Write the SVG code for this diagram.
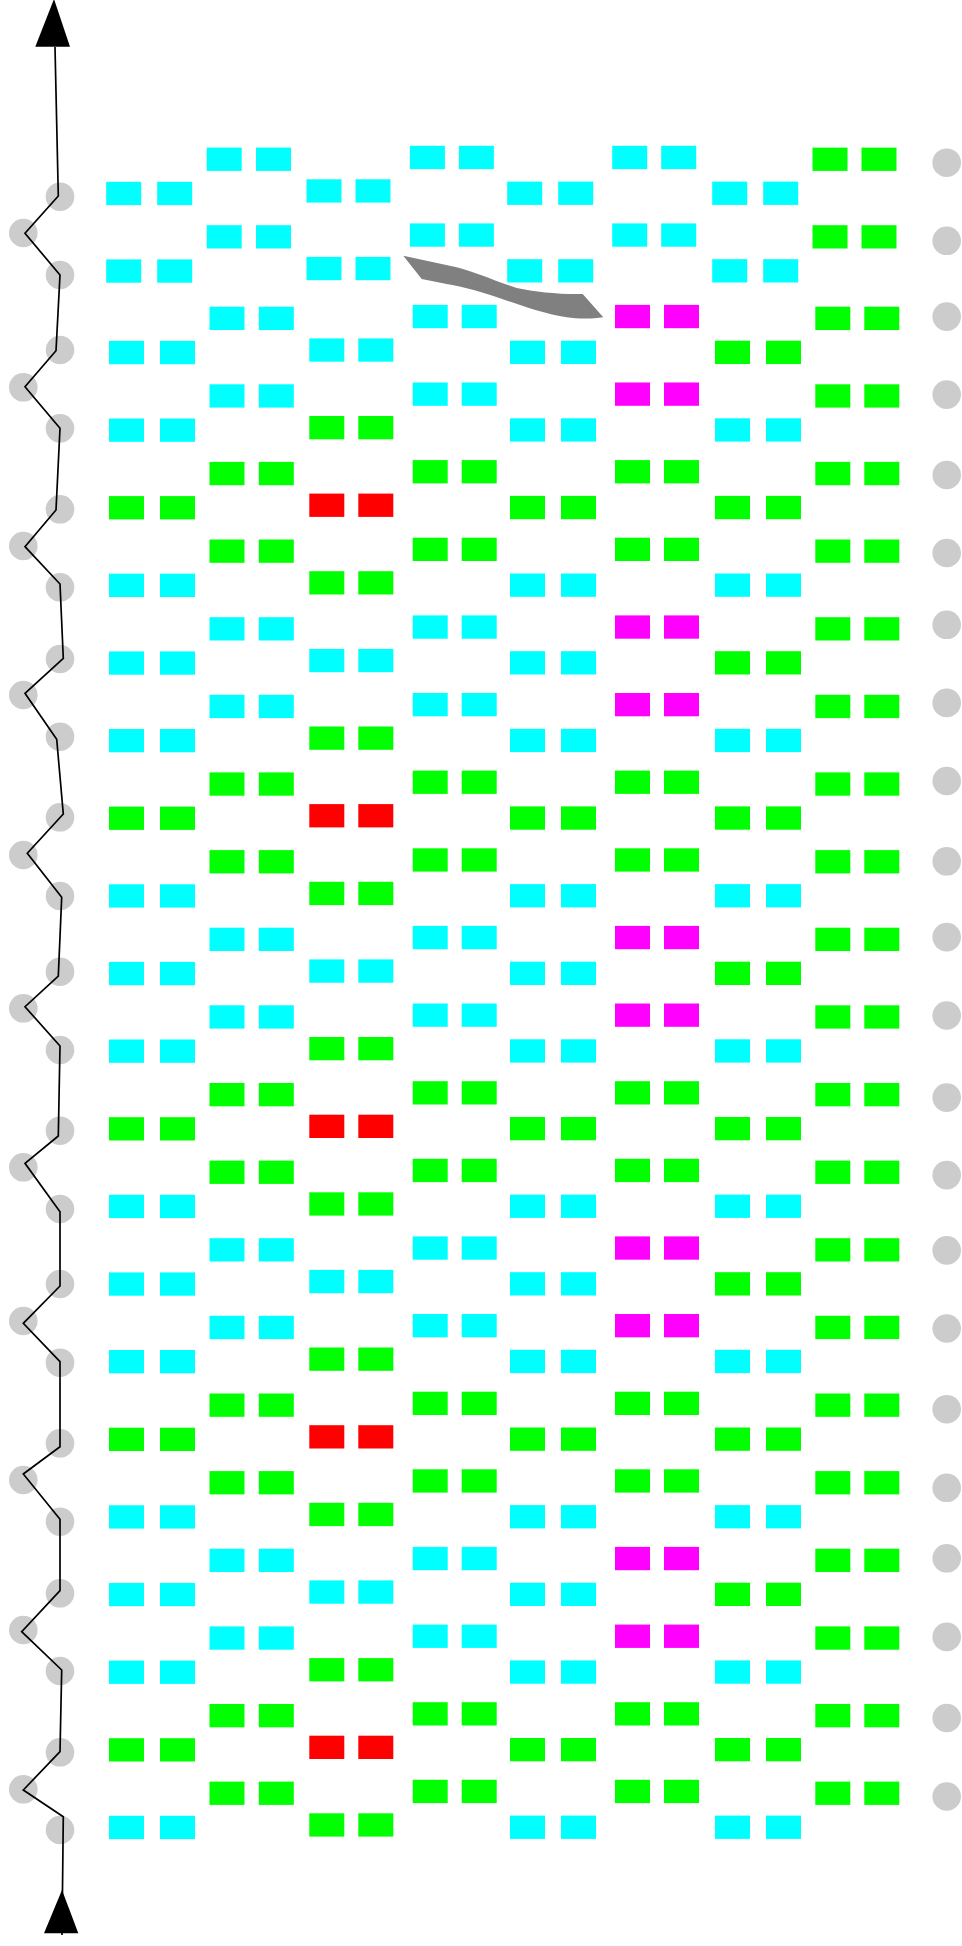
<svg xmlns="http://www.w3.org/2000/svg" width="962" height="1946" viewBox="0 0 962 1946">
<style>
rect{width:35px;height:23.3px}
.c{fill:#00ffff}.g{fill:#00ff00}.r{fill:#ff0000}.m{fill:#ff00ff}
.dot{fill:#cccccc}
.wire{fill:none;stroke:#000;stroke-width:1.7;stroke-linejoin:miter}
.head{fill:#000}
.swoosh{fill:#808080}
</style>
<rect width="962" height="1946" fill="#fff" style="width:962px;height:1946px"/>
<g id="dots-left">
<circle class="dot" r="14.3" cx="60" cy="196.7"/><circle class="dot" r="14.3" cx="60" cy="275"/><circle class="dot" r="14.3" cx="60" cy="350"/><circle class="dot" r="14.3" cx="60" cy="428.3"/><circle class="dot" r="14.3" cx="60" cy="509.3"/><circle class="dot" r="14.3" cx="60" cy="587.3"/><circle class="dot" r="14.3" cx="60" cy="659"/><circle class="dot" r="14.3" cx="60" cy="736.7"/><circle class="dot" r="14.3" cx="60" cy="817.3"/><circle class="dot" r="14.3" cx="60" cy="896"/><circle class="dot" r="14.3" cx="60" cy="971.7"/><circle class="dot" r="14.3" cx="60" cy="1050"/><circle class="dot" r="14.3" cx="60" cy="1130.7"/><circle class="dot" r="14.3" cx="60" cy="1209"/><circle class="dot" r="14.3" cx="60" cy="1284"/><circle class="dot" r="14.3" cx="60" cy="1362.7"/><circle class="dot" r="14.3" cx="60" cy="1443.3"/><circle class="dot" r="14.3" cx="60" cy="1521.7"/><circle class="dot" r="14.3" cx="60" cy="1593.3"/><circle class="dot" r="14.3" cx="60" cy="1671"/><circle class="dot" r="14.3" cx="60" cy="1752.3"/><circle class="dot" r="14.3" cx="60" cy="1830"/>
<circle class="dot" r="14.3" cx="23.3" cy="233"/><circle class="dot" r="14.3" cx="23.3" cy="387.3"/><circle class="dot" r="14.3" cx="23.3" cy="546"/><circle class="dot" r="14.3" cx="23.3" cy="695"/><circle class="dot" r="14.3" cx="23.3" cy="855"/><circle class="dot" r="14.3" cx="23.3" cy="1008.3"/><circle class="dot" r="14.3" cx="23.3" cy="1167.3"/><circle class="dot" r="14.3" cx="23.3" cy="1321"/><circle class="dot" r="14.3" cx="23.3" cy="1480"/><circle class="dot" r="14.3" cx="23.3" cy="1630"/><circle class="dot" r="14.3" cx="23.3" cy="1789.3"/>
</g>
<g id="dots-right">
<circle class="dot" r="14.3" cx="946.7" cy="162.7"/><circle class="dot" r="14.3" cx="946.7" cy="240.8"/><circle class="dot" r="14.3" cx="946.7" cy="316.6"/><circle class="dot" r="14.3" cx="946.7" cy="394.6"/><circle class="dot" r="14.3" cx="946.7" cy="475"/><circle class="dot" r="14.3" cx="946.7" cy="553"/><circle class="dot" r="14.3" cx="946.7" cy="624.8"/><circle class="dot" r="14.3" cx="946.7" cy="702.9"/><circle class="dot" r="14.3" cx="946.7" cy="781"/><circle class="dot" r="14.3" cx="946.7" cy="861.3"/><circle class="dot" r="14.3" cx="946.7" cy="937.1"/><circle class="dot" r="14.3" cx="946.7" cy="1015.5"/><circle class="dot" r="14.3" cx="946.7" cy="1097.6"/><circle class="dot" r="14.3" cx="946.7" cy="1175.1"/><circle class="dot" r="14.3" cx="946.7" cy="1250.4"/><circle class="dot" r="14.3" cx="946.7" cy="1328.5"/><circle class="dot" r="14.3" cx="946.7" cy="1409.2"/><circle class="dot" r="14.3" cx="946.7" cy="1487.8"/><circle class="dot" r="14.3" cx="946.7" cy="1558.3"/><circle class="dot" r="14.3" cx="946.7" cy="1636.9"/><circle class="dot" r="14.3" cx="946.7" cy="1718"/><circle class="dot" r="14.3" cx="946.7" cy="1796.5"/>
</g>
<g id="connectors">
<path class="wire" d="M62,1935 L63.3,1816.7 L23.3,1790 L60,1751.7 L61.7,1670 L21.7,1631.7 L60,1590.7 L60,1519.3 L23.3,1474 L60,1446.7 L60,1361.7 L23.3,1323.3 L60,1286 L60,1211.7 L25,1163.3 L58.3,1136 L60,1046 L25,1006.7 L58.3,976 L61.7,897.3 L27.3,853.3 L63.3,814 L56.7,739.3 L25,693.3 L63.3,658.3 L60,584 L25,546.7 L56,510 L60,428.3 L25,386.7 L56,350.7 L60,275 L25,233.3 L58.3,196 L55,47"/>
<polygon class="head" points="54,-1 35.3,46.7 70,46.7"/>
<polygon class="head" points="62,1890 44,1933.3 78.3,1933.3"/>
</g>
<g id="swoosh">
<path class="swoosh" d="M403.3,255.7 L456.7,267.3 C475,272 495,281 516.7,288 C535,292 560,294.5 582.7,294 L603.3,317.3 C590,319.5 575,318.5 566.7,317.3 C545,314 520,305 500,298.3 C485,293 465,287 446.7,284 L421.7,279 Z"/>
</g>
<g id="col1">
<g id="n1-0"><rect class="c" x="106.2" y="181.8"/><rect class="c" x="157.2" y="181.8"/></g>
<g id="n1-1"><rect class="c" x="106.2" y="259.4"/><rect class="c" x="157.2" y="259.4"/></g>
<g id="n1-2"><rect class="c" x="109" y="340.9"/><rect class="c" x="160" y="340.9"/></g>
<g id="n1-3"><rect class="c" x="109" y="418.5"/><rect class="c" x="160" y="418.5"/></g>
<g id="n1-4"><rect class="g" x="109" y="496.1"/><rect class="g" x="160" y="496.1"/></g>
<g id="n1-5"><rect class="c" x="109" y="573.7"/><rect class="c" x="160" y="573.7"/></g>
<g id="n1-6"><rect class="c" x="109" y="651.4"/><rect class="c" x="160" y="651.4"/></g>
<g id="n1-7"><rect class="c" x="109" y="729"/><rect class="c" x="160" y="729"/></g>
<g id="n1-8"><rect class="g" x="109" y="806.6"/><rect class="g" x="160" y="806.6"/></g>
<g id="n1-9"><rect class="c" x="109" y="884.3"/><rect class="c" x="160" y="884.3"/></g>
<g id="n1-10"><rect class="c" x="109" y="961.9"/><rect class="c" x="160" y="961.9"/></g>
<g id="n1-11"><rect class="c" x="109" y="1039.5"/><rect class="c" x="160" y="1039.5"/></g>
<g id="n1-12"><rect class="g" x="109" y="1117.2"/><rect class="g" x="160" y="1117.2"/></g>
<g id="n1-13"><rect class="c" x="109" y="1194.8"/><rect class="c" x="160" y="1194.8"/></g>
<g id="n1-14"><rect class="c" x="109" y="1272.4"/><rect class="c" x="160" y="1272.4"/></g>
<g id="n1-15"><rect class="c" x="109" y="1350"/><rect class="c" x="160" y="1350"/></g>
<g id="n1-16"><rect class="g" x="109" y="1427.7"/><rect class="g" x="160" y="1427.7"/></g>
<g id="n1-17"><rect class="c" x="109" y="1505.3"/><rect class="c" x="160" y="1505.3"/></g>
<g id="n1-18"><rect class="c" x="109" y="1582.9"/><rect class="c" x="160" y="1582.9"/></g>
<g id="n1-19"><rect class="c" x="109" y="1660.6"/><rect class="c" x="160" y="1660.6"/></g>
<g id="n1-20"><rect class="g" x="109" y="1738.2"/><rect class="g" x="160" y="1738.2"/></g>
<g id="n1-21"><rect class="c" x="109" y="1815.8"/><rect class="c" x="160" y="1815.8"/></g>
</g>
<g id="col2">
<g id="n2-0"><rect class="c" x="206.7" y="147.6"/><rect class="c" x="256" y="147.6"/></g>
<g id="n2-1"><rect class="c" x="206.7" y="225.2"/><rect class="c" x="256" y="225.2"/></g>
<g id="n2-2"><rect class="c" x="209.5" y="306.7"/><rect class="c" x="258.8" y="306.7"/></g>
<g id="n2-3"><rect class="c" x="209.5" y="384.3"/><rect class="c" x="258.8" y="384.3"/></g>
<g id="n2-4"><rect class="g" x="209.5" y="461.9"/><rect class="g" x="258.8" y="461.9"/></g>
<g id="n2-5"><rect class="g" x="209.5" y="539.5"/><rect class="g" x="258.8" y="539.5"/></g>
<g id="n2-6"><rect class="c" x="209.5" y="617.2"/><rect class="c" x="258.8" y="617.2"/></g>
<g id="n2-7"><rect class="c" x="209.5" y="694.8"/><rect class="c" x="258.8" y="694.8"/></g>
<g id="n2-8"><rect class="g" x="209.5" y="772.4"/><rect class="g" x="258.8" y="772.4"/></g>
<g id="n2-9"><rect class="g" x="209.5" y="850.1"/><rect class="g" x="258.8" y="850.1"/></g>
<g id="n2-10"><rect class="c" x="209.5" y="927.7"/><rect class="c" x="258.8" y="927.7"/></g>
<g id="n2-11"><rect class="c" x="209.5" y="1005.3"/><rect class="c" x="258.8" y="1005.3"/></g>
<g id="n2-12"><rect class="g" x="209.5" y="1083"/><rect class="g" x="258.8" y="1083"/></g>
<g id="n2-13"><rect class="g" x="209.5" y="1160.6"/><rect class="g" x="258.8" y="1160.6"/></g>
<g id="n2-14"><rect class="c" x="209.5" y="1238.2"/><rect class="c" x="258.8" y="1238.2"/></g>
<g id="n2-15"><rect class="c" x="209.5" y="1315.8"/><rect class="c" x="258.8" y="1315.8"/></g>
<g id="n2-16"><rect class="g" x="209.5" y="1393.5"/><rect class="g" x="258.8" y="1393.5"/></g>
<g id="n2-17"><rect class="g" x="209.5" y="1471.1"/><rect class="g" x="258.8" y="1471.1"/></g>
<g id="n2-18"><rect class="c" x="209.5" y="1548.7"/><rect class="c" x="258.8" y="1548.7"/></g>
<g id="n2-19"><rect class="c" x="209.5" y="1626.4"/><rect class="c" x="258.8" y="1626.4"/></g>
<g id="n2-20"><rect class="g" x="209.5" y="1704"/><rect class="g" x="258.8" y="1704"/></g>
<g id="n2-21"><rect class="g" x="209.5" y="1781.6"/><rect class="g" x="258.8" y="1781.6"/></g>
</g>
<g id="col3">
<g id="n3-0"><rect class="c" x="306.5" y="179.3"/><rect class="c" x="355.5" y="179.3"/></g>
<g id="n3-1"><rect class="c" x="306.5" y="256.9"/><rect class="c" x="355.5" y="256.9"/></g>
<g id="n3-2"><rect class="c" x="309.3" y="338.4"/><rect class="c" x="358.3" y="338.4"/></g>
<g id="n3-3"><rect class="g" x="309.3" y="416"/><rect class="g" x="358.3" y="416"/></g>
<g id="n3-4"><rect class="r" x="309.3" y="493.6"/><rect class="r" x="358.3" y="493.6"/></g>
<g id="n3-5"><rect class="g" x="309.3" y="571.2"/><rect class="g" x="358.3" y="571.2"/></g>
<g id="n3-6"><rect class="c" x="309.3" y="648.9"/><rect class="c" x="358.3" y="648.9"/></g>
<g id="n3-7"><rect class="g" x="309.3" y="726.5"/><rect class="g" x="358.3" y="726.5"/></g>
<g id="n3-8"><rect class="r" x="309.3" y="804.1"/><rect class="r" x="358.3" y="804.1"/></g>
<g id="n3-9"><rect class="g" x="309.3" y="881.8"/><rect class="g" x="358.3" y="881.8"/></g>
<g id="n3-10"><rect class="c" x="309.3" y="959.4"/><rect class="c" x="358.3" y="959.4"/></g>
<g id="n3-11"><rect class="g" x="309.3" y="1037"/><rect class="g" x="358.3" y="1037"/></g>
<g id="n3-12"><rect class="r" x="309.3" y="1114.7"/><rect class="r" x="358.3" y="1114.7"/></g>
<g id="n3-13"><rect class="g" x="309.3" y="1192.3"/><rect class="g" x="358.3" y="1192.3"/></g>
<g id="n3-14"><rect class="c" x="309.3" y="1269.9"/><rect class="c" x="358.3" y="1269.9"/></g>
<g id="n3-15"><rect class="g" x="309.3" y="1347.5"/><rect class="g" x="358.3" y="1347.5"/></g>
<g id="n3-16"><rect class="r" x="309.3" y="1425.2"/><rect class="r" x="358.3" y="1425.2"/></g>
<g id="n3-17"><rect class="g" x="309.3" y="1502.8"/><rect class="g" x="358.3" y="1502.8"/></g>
<g id="n3-18"><rect class="c" x="309.3" y="1580.4"/><rect class="c" x="358.3" y="1580.4"/></g>
<g id="n3-19"><rect class="g" x="309.3" y="1658.1"/><rect class="g" x="358.3" y="1658.1"/></g>
<g id="n3-20"><rect class="r" x="309.3" y="1735.7"/><rect class="r" x="358.3" y="1735.7"/></g>
<g id="n3-21"><rect class="g" x="309.3" y="1813.3"/><rect class="g" x="358.3" y="1813.3"/></g>
</g>
<g id="col4">
<g id="n4-0"><rect class="c" x="409.9" y="145.8"/><rect class="c" x="458.9" y="145.8"/></g>
<g id="n4-1"><rect class="c" x="409.9" y="223.4"/><rect class="c" x="458.9" y="223.4"/></g>
<g id="n4-2"><rect class="c" x="412.7" y="304.9"/><rect class="c" x="461.7" y="304.9"/></g>
<g id="n4-3"><rect class="c" x="412.7" y="382.5"/><rect class="c" x="461.7" y="382.5"/></g>
<g id="n4-4"><rect class="g" x="412.7" y="460.1"/><rect class="g" x="461.7" y="460.1"/></g>
<g id="n4-5"><rect class="g" x="412.7" y="537.7"/><rect class="g" x="461.7" y="537.7"/></g>
<g id="n4-6"><rect class="c" x="412.7" y="615.4"/><rect class="c" x="461.7" y="615.4"/></g>
<g id="n4-7"><rect class="c" x="412.7" y="693"/><rect class="c" x="461.7" y="693"/></g>
<g id="n4-8"><rect class="g" x="412.7" y="770.6"/><rect class="g" x="461.7" y="770.6"/></g>
<g id="n4-9"><rect class="g" x="412.7" y="848.3"/><rect class="g" x="461.7" y="848.3"/></g>
<g id="n4-10"><rect class="c" x="412.7" y="925.9"/><rect class="c" x="461.7" y="925.9"/></g>
<g id="n4-11"><rect class="c" x="412.7" y="1003.5"/><rect class="c" x="461.7" y="1003.5"/></g>
<g id="n4-12"><rect class="g" x="412.7" y="1081.2"/><rect class="g" x="461.7" y="1081.2"/></g>
<g id="n4-13"><rect class="g" x="412.7" y="1158.8"/><rect class="g" x="461.7" y="1158.8"/></g>
<g id="n4-14"><rect class="c" x="412.7" y="1236.4"/><rect class="c" x="461.7" y="1236.4"/></g>
<g id="n4-15"><rect class="c" x="412.7" y="1314"/><rect class="c" x="461.7" y="1314"/></g>
<g id="n4-16"><rect class="g" x="412.7" y="1391.7"/><rect class="g" x="461.7" y="1391.7"/></g>
<g id="n4-17"><rect class="g" x="412.7" y="1469.3"/><rect class="g" x="461.7" y="1469.3"/></g>
<g id="n4-18"><rect class="c" x="412.7" y="1546.9"/><rect class="c" x="461.7" y="1546.9"/></g>
<g id="n4-19"><rect class="c" x="412.7" y="1624.6"/><rect class="c" x="461.7" y="1624.6"/></g>
<g id="n4-20"><rect class="g" x="412.7" y="1702.2"/><rect class="g" x="461.7" y="1702.2"/></g>
<g id="n4-21"><rect class="g" x="412.7" y="1779.8"/><rect class="g" x="461.7" y="1779.8"/></g>
</g>
<g id="col5">
<g id="n5-0"><rect class="c" x="507.2" y="181.6"/><rect class="c" x="558.2" y="181.6"/></g>
<g id="n5-1"><rect class="c" x="507.2" y="259.2"/><rect class="c" x="558.2" y="259.2"/></g>
<g id="n5-2"><rect class="c" x="510" y="340.7"/><rect class="c" x="561" y="340.7"/></g>
<g id="n5-3"><rect class="c" x="510" y="418.3"/><rect class="c" x="561" y="418.3"/></g>
<g id="n5-4"><rect class="g" x="510" y="495.9"/><rect class="g" x="561" y="495.9"/></g>
<g id="n5-5"><rect class="c" x="510" y="573.5"/><rect class="c" x="561" y="573.5"/></g>
<g id="n5-6"><rect class="c" x="510" y="651.2"/><rect class="c" x="561" y="651.2"/></g>
<g id="n5-7"><rect class="c" x="510" y="728.8"/><rect class="c" x="561" y="728.8"/></g>
<g id="n5-8"><rect class="g" x="510" y="806.4"/><rect class="g" x="561" y="806.4"/></g>
<g id="n5-9"><rect class="c" x="510" y="884.1"/><rect class="c" x="561" y="884.1"/></g>
<g id="n5-10"><rect class="c" x="510" y="961.7"/><rect class="c" x="561" y="961.7"/></g>
<g id="n5-11"><rect class="c" x="510" y="1039.3"/><rect class="c" x="561" y="1039.3"/></g>
<g id="n5-12"><rect class="g" x="510" y="1117"/><rect class="g" x="561" y="1117"/></g>
<g id="n5-13"><rect class="c" x="510" y="1194.6"/><rect class="c" x="561" y="1194.6"/></g>
<g id="n5-14"><rect class="c" x="510" y="1272.2"/><rect class="c" x="561" y="1272.2"/></g>
<g id="n5-15"><rect class="c" x="510" y="1349.8"/><rect class="c" x="561" y="1349.8"/></g>
<g id="n5-16"><rect class="g" x="510" y="1427.5"/><rect class="g" x="561" y="1427.5"/></g>
<g id="n5-17"><rect class="c" x="510" y="1505.1"/><rect class="c" x="561" y="1505.1"/></g>
<g id="n5-18"><rect class="c" x="510" y="1582.7"/><rect class="c" x="561" y="1582.7"/></g>
<g id="n5-19"><rect class="c" x="510" y="1660.4"/><rect class="c" x="561" y="1660.4"/></g>
<g id="n5-20"><rect class="g" x="510" y="1738"/><rect class="g" x="561" y="1738"/></g>
<g id="n5-21"><rect class="c" x="510" y="1815.6"/><rect class="c" x="561" y="1815.6"/></g>
</g>
<g id="col6">
<g id="n6-0"><rect class="c" x="612.2" y="145.8"/><rect class="c" x="661.2" y="145.8"/></g>
<g id="n6-1"><rect class="c" x="612.2" y="223.4"/><rect class="c" x="661.2" y="223.4"/></g>
<g id="n6-2"><rect class="m" x="615" y="304.9"/><rect class="m" x="664" y="304.9"/></g>
<g id="n6-3"><rect class="m" x="615" y="382.5"/><rect class="m" x="664" y="382.5"/></g>
<g id="n6-4"><rect class="g" x="615" y="460.1"/><rect class="g" x="664" y="460.1"/></g>
<g id="n6-5"><rect class="g" x="615" y="537.7"/><rect class="g" x="664" y="537.7"/></g>
<g id="n6-6"><rect class="m" x="615" y="615.4"/><rect class="m" x="664" y="615.4"/></g>
<g id="n6-7"><rect class="m" x="615" y="693"/><rect class="m" x="664" y="693"/></g>
<g id="n6-8"><rect class="g" x="615" y="770.6"/><rect class="g" x="664" y="770.6"/></g>
<g id="n6-9"><rect class="g" x="615" y="848.3"/><rect class="g" x="664" y="848.3"/></g>
<g id="n6-10"><rect class="m" x="615" y="925.9"/><rect class="m" x="664" y="925.9"/></g>
<g id="n6-11"><rect class="m" x="615" y="1003.5"/><rect class="m" x="664" y="1003.5"/></g>
<g id="n6-12"><rect class="g" x="615" y="1081.2"/><rect class="g" x="664" y="1081.2"/></g>
<g id="n6-13"><rect class="g" x="615" y="1158.8"/><rect class="g" x="664" y="1158.8"/></g>
<g id="n6-14"><rect class="m" x="615" y="1236.4"/><rect class="m" x="664" y="1236.4"/></g>
<g id="n6-15"><rect class="m" x="615" y="1314"/><rect class="m" x="664" y="1314"/></g>
<g id="n6-16"><rect class="g" x="615" y="1391.7"/><rect class="g" x="664" y="1391.7"/></g>
<g id="n6-17"><rect class="g" x="615" y="1469.3"/><rect class="g" x="664" y="1469.3"/></g>
<g id="n6-18"><rect class="m" x="615" y="1546.9"/><rect class="m" x="664" y="1546.9"/></g>
<g id="n6-19"><rect class="m" x="615" y="1624.6"/><rect class="m" x="664" y="1624.6"/></g>
<g id="n6-20"><rect class="g" x="615" y="1702.2"/><rect class="g" x="664" y="1702.2"/></g>
<g id="n6-21"><rect class="g" x="615" y="1779.8"/><rect class="g" x="664" y="1779.8"/></g>
</g>
<g id="col7">
<g id="n7-0"><rect class="c" x="712.2" y="181.6"/><rect class="c" x="763.2" y="181.6"/></g>
<g id="n7-1"><rect class="c" x="712.2" y="259.2"/><rect class="c" x="763.2" y="259.2"/></g>
<g id="n7-2"><rect class="g" x="715" y="340.7"/><rect class="g" x="766" y="340.7"/></g>
<g id="n7-3"><rect class="c" x="715" y="418.3"/><rect class="c" x="766" y="418.3"/></g>
<g id="n7-4"><rect class="g" x="715" y="495.9"/><rect class="g" x="766" y="495.9"/></g>
<g id="n7-5"><rect class="c" x="715" y="573.5"/><rect class="c" x="766" y="573.5"/></g>
<g id="n7-6"><rect class="g" x="715" y="651.2"/><rect class="g" x="766" y="651.2"/></g>
<g id="n7-7"><rect class="c" x="715" y="728.8"/><rect class="c" x="766" y="728.8"/></g>
<g id="n7-8"><rect class="g" x="715" y="806.4"/><rect class="g" x="766" y="806.4"/></g>
<g id="n7-9"><rect class="c" x="715" y="884.1"/><rect class="c" x="766" y="884.1"/></g>
<g id="n7-10"><rect class="g" x="715" y="961.7"/><rect class="g" x="766" y="961.7"/></g>
<g id="n7-11"><rect class="c" x="715" y="1039.3"/><rect class="c" x="766" y="1039.3"/></g>
<g id="n7-12"><rect class="g" x="715" y="1117"/><rect class="g" x="766" y="1117"/></g>
<g id="n7-13"><rect class="c" x="715" y="1194.6"/><rect class="c" x="766" y="1194.6"/></g>
<g id="n7-14"><rect class="g" x="715" y="1272.2"/><rect class="g" x="766" y="1272.2"/></g>
<g id="n7-15"><rect class="c" x="715" y="1349.8"/><rect class="c" x="766" y="1349.8"/></g>
<g id="n7-16"><rect class="g" x="715" y="1427.5"/><rect class="g" x="766" y="1427.5"/></g>
<g id="n7-17"><rect class="c" x="715" y="1505.1"/><rect class="c" x="766" y="1505.1"/></g>
<g id="n7-18"><rect class="g" x="715" y="1582.7"/><rect class="g" x="766" y="1582.7"/></g>
<g id="n7-19"><rect class="c" x="715" y="1660.4"/><rect class="c" x="766" y="1660.4"/></g>
<g id="n7-20"><rect class="g" x="715" y="1738"/><rect class="g" x="766" y="1738"/></g>
<g id="n7-21"><rect class="c" x="715" y="1815.6"/><rect class="c" x="766" y="1815.6"/></g>
</g>
<g id="col8">
<g id="n8-0"><rect class="g" x="812.5" y="147.6"/><rect class="g" x="861.5" y="147.6"/></g>
<g id="n8-1"><rect class="g" x="812.5" y="225.2"/><rect class="g" x="861.5" y="225.2"/></g>
<g id="n8-2"><rect class="g" x="815.3" y="306.7"/><rect class="g" x="864.3" y="306.7"/></g>
<g id="n8-3"><rect class="g" x="815.3" y="384.3"/><rect class="g" x="864.3" y="384.3"/></g>
<g id="n8-4"><rect class="g" x="815.3" y="461.9"/><rect class="g" x="864.3" y="461.9"/></g>
<g id="n8-5"><rect class="g" x="815.3" y="539.5"/><rect class="g" x="864.3" y="539.5"/></g>
<g id="n8-6"><rect class="g" x="815.3" y="617.2"/><rect class="g" x="864.3" y="617.2"/></g>
<g id="n8-7"><rect class="g" x="815.3" y="694.8"/><rect class="g" x="864.3" y="694.8"/></g>
<g id="n8-8"><rect class="g" x="815.3" y="772.4"/><rect class="g" x="864.3" y="772.4"/></g>
<g id="n8-9"><rect class="g" x="815.3" y="850.1"/><rect class="g" x="864.3" y="850.1"/></g>
<g id="n8-10"><rect class="g" x="815.3" y="927.7"/><rect class="g" x="864.3" y="927.7"/></g>
<g id="n8-11"><rect class="g" x="815.3" y="1005.3"/><rect class="g" x="864.3" y="1005.3"/></g>
<g id="n8-12"><rect class="g" x="815.3" y="1083"/><rect class="g" x="864.3" y="1083"/></g>
<g id="n8-13"><rect class="g" x="815.3" y="1160.6"/><rect class="g" x="864.3" y="1160.6"/></g>
<g id="n8-14"><rect class="g" x="815.3" y="1238.2"/><rect class="g" x="864.3" y="1238.2"/></g>
<g id="n8-15"><rect class="g" x="815.3" y="1315.8"/><rect class="g" x="864.3" y="1315.8"/></g>
<g id="n8-16"><rect class="g" x="815.3" y="1393.5"/><rect class="g" x="864.3" y="1393.5"/></g>
<g id="n8-17"><rect class="g" x="815.3" y="1471.1"/><rect class="g" x="864.3" y="1471.1"/></g>
<g id="n8-18"><rect class="g" x="815.3" y="1548.7"/><rect class="g" x="864.3" y="1548.7"/></g>
<g id="n8-19"><rect class="g" x="815.3" y="1626.4"/><rect class="g" x="864.3" y="1626.4"/></g>
<g id="n8-20"><rect class="g" x="815.3" y="1704"/><rect class="g" x="864.3" y="1704"/></g>
<g id="n8-21"><rect class="g" x="815.3" y="1781.6"/><rect class="g" x="864.3" y="1781.6"/></g>
</g>
</svg>
